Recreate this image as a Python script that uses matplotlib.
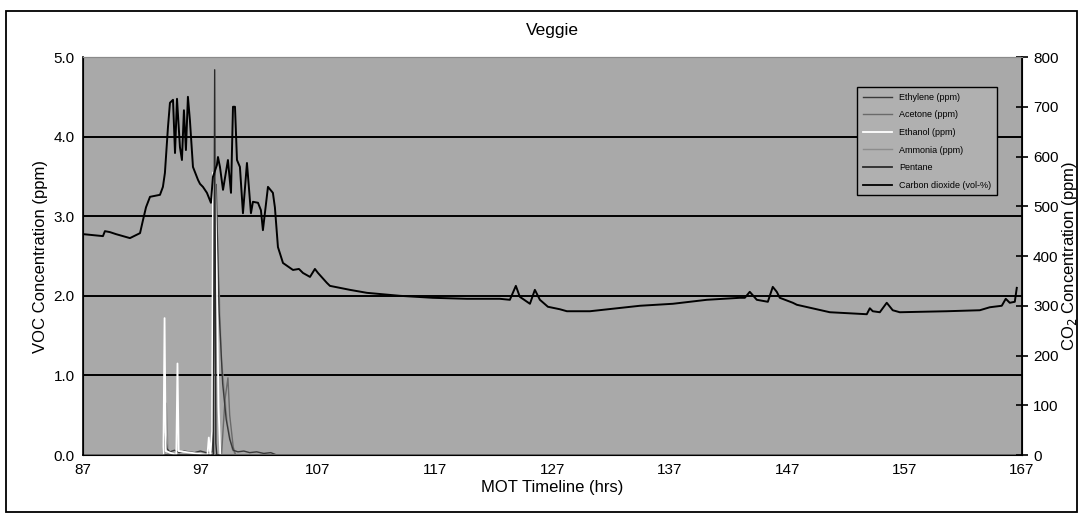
import matplotlib.pyplot as plt
from matplotlib.lines import Line2D
from matplotlib.patches import Rectangle

plt.rcParams['font.family'] = ['Liberation Sans', 'DejaVu Sans']

# MOT timeline (hrs) and CO2 (ppm, right axis)
co2_hrs = [87.0, 88.7, 88.87, 89.3, 89.81, 91.0, 91.86, 92.11, 92.37, 92.71, 93.56, 93.81,
           93.98, 94.24, 94.41, 94.67, 94.84, 95.01, 95.26, 95.43, 95.6, 95.77, 95.94, 96.11,
           96.37, 96.8, 96.97, 97.22, 97.56, 97.9, 98.07, 98.41, 98.5, 98.67, 98.93, 99.35,
           99.61, 99.78, 99.95, 100.12, 100.37, 100.63, 100.97, 101.31, 101.48, 101.91, 102.16,
           102.33, 102.76, 103.18, 103.35, 103.61, 104.04, 104.89, 105.4, 105.74, 106.34,
           106.76, 107.02, 107.78, 108.04, 109.74, 111.19, 114.0, 116.81, 119.71, 122.52,
           123.37, 123.88, 124.22, 125.08, 125.5, 125.93, 126.61, 127.63, 128.23, 130.19,
           134.45, 137.26, 140.15, 142.96, 143.39, 143.81, 144.41, 145.35, 145.77, 146.11,
           146.37, 147.48, 147.82, 150.63, 153.78, 154.04, 154.29, 154.89, 155.48, 155.99,
           156.59, 160.59, 163.41, 164.26, 165.28, 165.62, 165.96, 166.39, 166.56]
co2_ppm = [444, 440, 450, 448, 444, 436, 446, 472, 498, 519, 523, 539,
           567, 659, 708, 714, 607, 716, 619, 593, 693, 613, 720, 673,
           579, 553, 545, 539, 527, 507, 559, 583, 599, 579, 533, 593,
           527, 700, 700, 593, 579, 486, 587, 486, 509, 507, 492,
           452, 539, 527, 498, 418, 386, 372, 374, 366, 358,
           374, 366, 346, 340, 332, 326, 320, 316, 314, 314,
           312, 340, 318, 304, 332, 312, 298, 293, 289, 289,
           300, 304, 312, 316, 316, 328, 312, 308, 338, 328,
           316, 306, 302, 287, 283, 295, 289, 287, 306, 291,
           287, 289, 291, 297, 300, 314, 306, 308, 336]

# VOC series (ppm, left axis)
eth_hrs = [87.0, 93.85, 93.95, 94.05, 94.95, 95.05, 95.15, 97.6, 97.72, 97.85, 98.0, 98.08,
           98.25, 98.4, 98.55, 98.7, 167.0]
ethanol = [0.0, 0.0, 1.72, 0.05, 0.0, 1.15, 0.05, 0.0, 0.22, 0.0, 0.3, 3.55,
           3.5, 2.2, 0.6, 0.0, 0.0]

pen_hrs = [87.0, 98.1, 98.22, 98.32, 98.4, 167.0]
pentane = [0.0, 0.0, 4.84, 0.15, 0.0, 0.0]

ethy_hrs = [87.0, 93.8, 94.0, 94.15, 94.4, 94.8, 95.2, 95.6, 96.0, 96.5, 97.0, 97.5, 98.0,
            98.35, 98.6, 98.9, 99.2, 99.5, 99.8, 100.2, 100.7, 101.2, 101.8, 102.4, 103.0,
            103.5, 167.0]
ethylene = [0.0, 0.0, 0.27, 0.08, 0.04, 0.06, 0.03, 0.05, 0.04, 0.03, 0.05, 0.03, 0.04,
            3.4, 1.8, 0.9, 0.45, 0.2, 0.06, 0.04, 0.05, 0.03, 0.04, 0.02, 0.03,
            0.0, 0.0]

ace_hrs = [87.0, 98.8, 99.1, 99.35, 99.5, 99.8, 100.0, 167.0]
acetone = [0.0, 0.0, 0.7, 0.97, 0.5, 0.1, 0.0, 0.0]

amm_hrs = [87.0, 93.95, 94.1, 94.25, 98.2, 98.4, 98.8, 99.3, 99.7, 100.0, 167.0]
ammonia = [0.0, 0.0, 0.65, 0.0, 0.0, 3.0, 1.2, 0.4, 0.08, 0.0, 0.0]

xticks = [87, 97, 107, 117, 127, 137, 147, 157, 167]
yticks = [0.0, 1.0, 2.0, 3.0, 4.0, 5.0]
co2_ticks = [0, 100, 200, 300, 400, 500, 600, 700, 800]

fig = plt.figure(figsize=(10.82, 5.25), dpi=100, facecolor='white')
fig.patches.append(Rectangle((0.006, 0.025), 0.989, 0.955, transform=fig.transFigure,
                             fill=False, edgecolor='black', linewidth=1.3))
ax = fig.add_axes([0.0767, 0.1333, 0.8678, 0.7581])
ax.set_facecolor('#a9a9a9')
ax2 = ax.twinx()

for y in yticks[1:-1]:
    ax.axhline(y, color='black', linewidth=1.4, zorder=1)

ax.plot(amm_hrs, ammonia, color='#8c8c8c', linewidth=1.0, zorder=3)
ax.plot(ace_hrs, acetone, color='#6a6a6a', linewidth=1.0, zorder=3)
ax.plot(ethy_hrs, ethylene, color='#3a3a3a', linewidth=1.0, zorder=3)
ax.plot(eth_hrs, ethanol, color='white', linewidth=1.3, zorder=4)
ax.plot(pen_hrs, pentane, color='#2a2a2a', linewidth=1.0, zorder=5)
ax2.plot(co2_hrs, co2_ppm, color='black', linewidth=1.4)

ax.set_xlim(87, 167)
ax.set_ylim(0, 5)
ax2.set_ylim(0, 800)
ax.set_xticks(xticks)
ax.set_yticks(yticks)
ax.set_yticklabels(['%.1f' % v for v in yticks], fontsize=11)
ax.set_xticklabels([str(v) for v in xticks], fontsize=11)
ax2.set_yticks(co2_ticks)
ax2.set_yticklabels([str(v) for v in co2_ticks], fontsize=11)
ax.tick_params(axis='both', length=0, pad=6)
ax2.tick_params(axis='y', direction='inout', length=8, width=1.2, pad=4)

for s in ['left', 'bottom']:
    ax.spines[s].set_linewidth(1.2)
ax.spines['top'].set_color('#8a8a8a')
ax2.spines['top'].set_color('#8a8a8a')
ax2.spines['right'].set_linewidth(1.3)

ax.set_title('Veggie', fontsize=12.5, pad=16)
ax.set_xlabel('MOT Timeline (hrs)', fontsize=12, labelpad=2)
ax.set_ylabel('VOC Concentration (ppm)', fontsize=12, labelpad=4)
ax2.set_ylabel('CO$_2$ Concentration (ppm)', fontsize=12, labelpad=1)

handles = [
    Line2D([], [], color='#3a3a3a', linewidth=1.0),
    Line2D([], [], color='#6a6a6a', linewidth=1.0),
    Line2D([], [], color='white', linewidth=1.3),
    Line2D([], [], color='#8c8c8c', linewidth=1.0),
    Line2D([], [], color='#2a2a2a', linewidth=1.3),
    Line2D([], [], color='black', linewidth=1.3),
]
labels = ['Ethylene (ppm)', 'Acetone (ppm)', 'Ethanol (ppm)', 'Ammonia (ppm)',
          'Pentane', 'Carbon dioxide (vol-%)']
leg = ax2.legend(handles, labels, loc='upper left', bbox_to_anchor=(0.82, 0.935),
                 fontsize=6.5, frameon=True, fancybox=False, edgecolor='black',
                 facecolor='#b0b0b0', framealpha=1, handlelength=3.2,
                 labelspacing=0.95, borderpad=0.6)
leg.get_frame().set_linewidth(1.0)

fig.savefig('out.png', dpi=100, facecolor='white')
